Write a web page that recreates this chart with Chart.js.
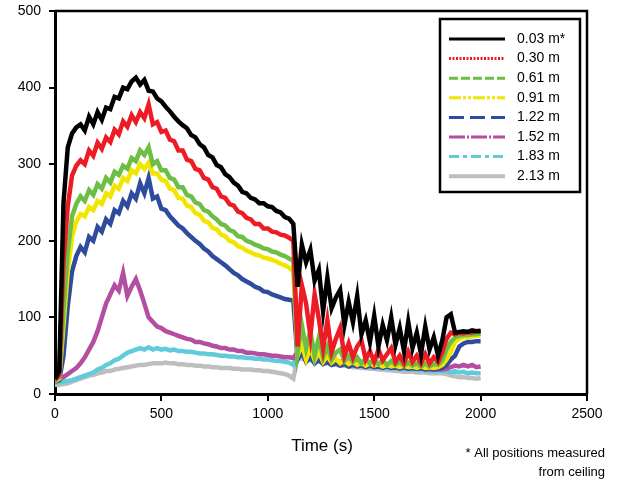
<!DOCTYPE html>
<html>
<head>
<meta charset="utf-8">
<script src="https://cdn.jsdelivr.net/npm/chart.js@4/dist/chart.umd.min.js"></script>
<style>
  html, body { margin: 0; padding: 0; background: #fff; }
  #wrap { width: 620px; height: 483px; }
</style>
</head>
<body>
<div id="wrap"><canvas id="tempChart" width="620" height="483"></canvas></div>
<script>
// Time axis (s), one reading every 20 s
const times = [
  0, 20, 40, 60, 80, 100, 120, 140, 160, 180,
  200, 220, 240, 260, 280, 300, 320, 340, 360, 380,
  400, 420, 440, 460, 480, 500, 520, 540, 560, 580,
  600, 620, 640, 660, 680, 700, 720, 740, 760, 780,
  800, 820, 840, 860, 880, 900, 920, 940, 960, 980,
  1000, 1020, 1040, 1060, 1080, 1100, 1120, 1140, 1160, 1180,
  1200, 1220, 1240, 1260, 1280, 1300, 1320, 1340, 1360, 1380,
  1400, 1420, 1440, 1460, 1480, 1500, 1520, 1540, 1560, 1580,
  1600, 1620, 1640, 1660, 1680, 1700, 1720, 1740, 1760, 1780,
  1800, 1820, 1840, 1860, 1880, 1900, 1920, 1940, 1960, 1980,
  2000
];

const seriesLabels = ["0.03 m*", "0.30 m", "0.61 m", "0.91 m", "1.22 m", "1.52 m", "1.83 m", "2.13 m"];

// temperatures
const pos003 = [
  20, 30, 250, 322, 340, 348, 352, 344, 362, 352,
  368, 358, 374, 372, 388, 386, 400, 398, 408, 413,
  404, 410, 396, 395, 386, 382, 375, 369, 362, 356,
  351, 347, 338, 335, 326, 322, 312, 309, 299, 296,
  287, 283, 276, 272, 264, 262, 256, 254, 249, 249,
  245, 244, 239, 237, 231, 229, 222, 140, 195, 172,
  188, 148, 162, 108, 152, 112, 126, 136, 90, 120,
  94, 128, 78, 96, 68, 102, 62, 90, 70, 100,
  64, 86, 56, 94, 60, 80, 52, 88, 58, 74,
  50, 70, 100, 104, 80, 81, 82, 81, 83, 82,
  82
];
const pos030 = [
  18, 25, 175, 245, 285, 298, 305, 300, 318, 311,
  328, 320, 335, 329, 345, 339, 356, 349, 364, 355,
  368, 360, 378, 352, 355, 342, 344, 332, 330, 318,
  318, 306, 304, 294, 292, 282, 280, 270, 268, 258,
  256, 248, 246, 238, 236, 230, 228, 222, 222, 216,
  216, 212, 211, 208, 207, 204, 200, 62, 142, 118,
  76, 130, 98, 60, 96, 55, 72, 86, 50, 66,
  48, 62, 70, 45, 56, 42, 58, 44, 52, 60,
  42, 50, 40, 55, 42, 50, 40, 52, 40, 48,
  42, 55, 72, 80, 78, 80, 79, 81, 80, 82,
  83
];
const pos061 = [
  18, 22, 110, 185, 232, 248, 258, 252, 266, 260,
  274, 268, 282, 276, 290, 286, 298, 294, 308, 304,
  318, 312, 322, 300, 304, 292, 292, 282, 280, 270,
  270, 260, 258, 250, 248, 240, 238, 232, 228, 222,
  220, 214, 212, 206, 205, 200, 198, 195, 193, 190,
  189, 186, 185, 182, 180, 177, 174, 55, 90, 60,
  82, 50, 74, 48, 62, 45, 54, 58, 43, 50,
  42, 48, 40, 46, 40, 45, 39, 44, 38, 43,
  38, 42, 37, 41, 37, 40, 36, 40, 36, 39,
  38, 44, 58, 68, 74, 76, 77, 77, 78, 78,
  79
];
const pos091 = [
  17, 20, 90, 160, 205, 225, 235, 232, 244, 240,
  252, 248, 262, 258, 272, 268, 282, 278, 292, 288,
  300, 294, 302, 288, 288, 280, 278, 268, 266, 256,
  255, 246, 244, 236, 234, 226, 224, 217, 215, 208,
  206, 200, 198, 193, 191, 187, 185, 182, 181, 178,
  177, 175, 173, 170, 168, 165, 160, 50, 65, 45,
  60, 44, 55, 42, 50, 41, 46, 40, 44, 39,
  42, 38, 41, 37, 40, 37, 39, 36, 38, 36,
  37, 35, 37, 35, 36, 34, 36, 34, 35, 34,
  35, 38, 45, 55, 68, 72, 74, 74, 75, 76,
  76
];
const pos122 = [
  16, 18, 50, 115, 160, 180, 192, 185, 205, 200,
  218, 212, 228, 222, 240, 236, 252, 245, 262, 255,
  275, 262, 282, 255, 258, 242, 240, 232, 226, 220,
  216, 210, 205, 200, 196, 190, 186, 180, 176, 172,
  168, 163, 158, 155, 150, 147, 144, 140, 138, 134,
  133, 130, 128, 126, 124, 123, 122, 45, 55, 42,
  48, 40, 45, 39, 42, 38, 40, 37, 39, 36,
  38, 36, 37, 35, 37, 35, 36, 34, 36, 34,
  35, 33, 35, 33, 34, 33, 34, 32, 34, 32,
  33, 34, 38, 45, 50, 62, 66, 68, 68, 69,
  69
];
const pos152 = [
  18, 19, 22, 26, 30, 34, 40, 48, 58, 68,
  82, 100, 118, 130, 142, 135, 158, 128, 140, 150,
  135, 118, 100, 94, 88, 86, 82, 80, 78, 76,
  74, 72, 71, 68, 68, 66, 65, 63, 62, 60,
  60, 58, 58, 56, 56, 54, 54, 53, 52, 52,
  51, 50, 50, 49, 48, 48, 47, 55, 52, 50,
  50, 48, 47, 46, 45, 44, 43, 42, 42, 41,
  40, 40, 39, 38, 38, 37, 37, 36, 36, 35,
  35, 35, 34, 34, 34, 33, 33, 33, 32, 32,
  32, 32, 33, 35, 37, 36, 38, 36, 38, 35,
  36
];
const pos183 = [
  15, 15, 16, 17, 18, 20, 22, 24, 26, 28,
  32, 34, 38, 40, 44, 46, 50, 54, 56, 58,
  60, 58, 61, 58, 60, 58, 59, 57, 58, 56,
  56, 55, 55, 54, 53, 53, 52, 52, 51, 50,
  50, 49, 49, 48, 48, 47, 47, 46, 46, 45,
  45, 44, 43, 43, 42, 41, 38, 54, 50, 49,
  48, 46, 45, 44, 43, 42, 41, 40, 40, 39,
  38, 38, 37, 36, 36, 35, 35, 34, 34, 33,
  33, 33, 32, 32, 32, 31, 31, 31, 30, 30,
  30, 30, 30, 28, 30, 28, 29, 27, 28, 27,
  27
];
const pos213 = [
  12, 12, 13, 14, 16, 18, 20, 22, 24, 25,
  27, 28, 30, 30, 32, 33, 34, 35, 36, 37,
  38, 38, 39, 40, 40, 40, 41, 40, 40, 39,
  39, 38, 38, 37, 37, 36, 36, 35, 35, 34,
  34, 34, 33, 33, 32, 32, 32, 31, 31, 30,
  30, 29, 28, 27, 26, 24, 20, 48, 46, 45,
  44, 43, 42, 41, 40, 39, 38, 37, 37, 36,
  35, 35, 34, 34, 33, 33, 32, 32, 31, 31,
  30, 30, 29, 29, 29, 28, 28, 28, 27, 27,
  27, 27, 26, 24, 23, 22, 22, 21, 21, 20,
  21
];

const allSeries = [pos003, pos030, pos061, pos091, pos122, pos152, pos183, pos213];
const colors = ["#000000", "#ED1C24", "#6DBE45", "#F2E600", "#2F4B9E", "#B34EA1", "#62CBDB", "#BEBEBE"];
const legendDash = [[], [2, 1.5], [9, 3], [12, 2, 3, 2, 3, 2], [15, 6], [16, 2, 2, 2], [10, 4, 4, 4], []];

const FONT = "'Liberation Sans', Arial, sans-serif";

const datasets = allSeries.map((vals, i) => ({
  label: seriesLabels[i],
  data: vals.map((v, k) => ({ x: times[k], y: v })),
  borderColor: colors[i],
  backgroundColor: colors[i],
  borderWidth: 4.5,
  pointRadius: 0,
  tension: 0,
  fill: false
}));

// frame, legend box, axis title and footnote
const extras = {
  id: "extras",
  afterDraw(chart) {
    const ctx = chart.ctx;
    const a = chart.chartArea;
    ctx.save();
    ctx.strokeStyle = "#000";
    ctx.lineWidth = 2.5;
    ctx.beginPath();
    ctx.moveTo(a.left, a.top);
    ctx.lineTo(a.right, a.top);
    ctx.lineTo(a.right, a.bottom);
    ctx.stroke();

    // legend
    ctx.fillStyle = "#fff";
    ctx.fillRect(440, 19, 140, 173);
    ctx.strokeRect(440, 19, 140, 173);
    ctx.font = "14px " + FONT;
    ctx.textBaseline = "middle";
    chart.data.datasets.forEach((ds, i) => {
      const y = 39 + i * 19.6;
      ctx.strokeStyle = ds.borderColor;
      ctx.lineWidth = i === 7 ? 4 : 3;
      ctx.setLineDash(legendDash[i]);
      ctx.beginPath();
      ctx.moveTo(449, y);
      ctx.lineTo(505, y);
      ctx.stroke();
      ctx.setLineDash([]);
      ctx.fillStyle = "#000";
      ctx.fillText(ds.label, 517, y);
    });

    ctx.fillStyle = "#000";
    ctx.textAlign = "center";
    ctx.font = "17px " + FONT;
    ctx.fillText("Time (s)", 322, 446);

    ctx.textAlign = "right";
    ctx.font = "13px " + FONT;
    ctx.fillText("* All positions measured", 605, 453);
    ctx.fillText("from ceiling", 605, 472);
    ctx.restore();
  }
};

const ctx = document.getElementById("tempChart").getContext("2d");
const tempChart = new Chart(ctx, {
  type: "line",
  data: { datasets: datasets },
  options: {
    responsive: false,
    animation: false,
    devicePixelRatio: 1,
    layout: { padding: { top: 11, right: 33, left: 0, bottom: 0 } },
    plugins: {
      legend: { display: false },
      tooltip: { enabled: false }
    },
    scales: {
      x: {
        type: "linear",
        min: 0,
        max: 2500,
        afterFit: (scale) => { scale.height = 89; },
        ticks: { stepSize: 500, color: "#000", padding: 5, font: { family: FONT, size: 14 }, callback: (v) => String(v) },
        grid: { drawOnChartArea: false, drawTicks: true, tickLength: 7, color: "#000", lineWidth: 2 },
        border: { display: true, color: "#000", width: 3 }
      },
      y: {
        min: 0,
        max: 500,
        afterFit: (scale) => { scale.width = 55; scale.paddingTop = 0; scale.paddingBottom = 0; },
        ticks: { stepSize: 100, color: "#000", padding: 8, font: { family: FONT, size: 14 }, callback: (v) => String(v) },
        grid: { drawOnChartArea: false, drawTicks: true, tickLength: 6, color: "#000", lineWidth: 2 },
        border: { display: true, color: "#000", width: 3 }
      }
    }
  },
  plugins: [extras]
});
</script>
</body>
</html>
